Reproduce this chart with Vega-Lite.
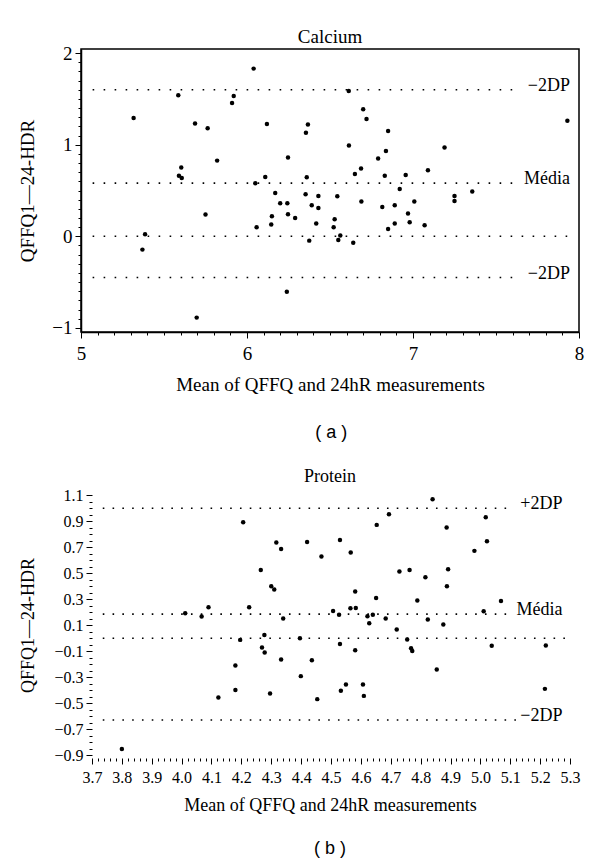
{
  "$schema": "https://vega.github.io/schema/vega-lite/v6.json",
  "background": "white",
  "padding": {"left": 18, "top": 27, "right": 5, "bottom": 5},
  "config": {
    "view": {"stroke": "black", "strokeWidth": 1.5},
    "font": "Liberation Serif",
    "axis": {"domainColor": "black", "domainWidth": 1.5, "tickColor": "black", "tickWidth": 1, "labelColor": "black", "titleColor": "black", "grid": false, "labelFont": "Liberation Serif", "titleFont": "Liberation Serif", "titleFontWeight": "normal", "titleFontSize": 18, "labelOverlap": false, "labelFlush": false},
    "title": {"font": "Liberation Serif", "fontWeight": "normal", "color": "black"}
  },
  "datasets": {
    "calcium": [
      {"x": 6.04, "y": 1.83}, {"x": 5.586, "y": 1.54}, {"x": 5.92, "y": 1.53}, {"x": 5.91, "y": 1.455}, {"x": 5.317, "y": 1.29},
      {"x": 5.687, "y": 1.23}, {"x": 6.12, "y": 1.226}, {"x": 6.367, "y": 1.22}, {"x": 5.763, "y": 1.18}, {"x": 6.355, "y": 1.13},
      {"x": 6.247, "y": 0.86}, {"x": 5.82, "y": 0.826}, {"x": 5.604, "y": 0.75}, {"x": 5.59, "y": 0.66}, {"x": 5.607, "y": 0.637},
      {"x": 6.11, "y": 0.648}, {"x": 6.36, "y": 0.645}, {"x": 6.613, "y": 1.586}, {"x": 6.70, "y": 1.386}, {"x": 6.72, "y": 1.28},
      {"x": 6.85, "y": 1.15}, {"x": 7.93, "y": 1.26}, {"x": 6.614, "y": 0.99}, {"x": 6.837, "y": 0.93}, {"x": 7.19, "y": 0.97},
      {"x": 6.79, "y": 0.85}, {"x": 6.687, "y": 0.74}, {"x": 6.65, "y": 0.68}, {"x": 6.83, "y": 0.66}, {"x": 6.956, "y": 0.67},
      {"x": 7.09, "y": 0.72}, {"x": 6.544, "y": 0.437}, {"x": 6.689, "y": 0.38}, {"x": 6.92, "y": 0.517}, {"x": 6.815, "y": 0.32},
      {"x": 6.89, "y": 0.34}, {"x": 7.008, "y": 0.38}, {"x": 7.25, "y": 0.44}, {"x": 7.25, "y": 0.386}, {"x": 7.357, "y": 0.49},
      {"x": 6.528, "y": 0.186}, {"x": 6.522, "y": 0.10}, {"x": 6.562, "y": 0.01}, {"x": 6.55, "y": -0.04}, {"x": 6.64, "y": -0.07},
      {"x": 6.97, "y": 0.248}, {"x": 6.89, "y": 0.14}, {"x": 6.98, "y": 0.154}, {"x": 6.85, "y": 0.08}, {"x": 7.07, "y": 0.12},
      {"x": 6.05, "y": 0.58}, {"x": 6.17, "y": 0.473}, {"x": 6.2, "y": 0.36}, {"x": 6.243, "y": 0.36}, {"x": 6.353, "y": 0.46},
      {"x": 6.43, "y": 0.44}, {"x": 6.39, "y": 0.34}, {"x": 6.43, "y": 0.31}, {"x": 6.15, "y": 0.22}, {"x": 6.247, "y": 0.24},
      {"x": 6.29, "y": 0.20}, {"x": 6.146, "y": 0.13}, {"x": 6.058, "y": 0.10}, {"x": 6.417, "y": 0.14}, {"x": 6.375, "y": -0.047},
      {"x": 5.75, "y": 0.237}, {"x": 5.386, "y": 0.023}, {"x": 5.37, "y": -0.145}, {"x": 6.24, "y": -0.606}, {"x": 5.697, "y": -0.887}
    ],
    "calcium_lines": [
      {"y": 1.60, "x": 5.07, "xend": 7.65, "label": "−2DP"},
      {"y": 0.58, "x": 5.07, "xend": 7.65, "label": "Média"},
      {"y": 0, "x": 5.07, "xend": 7.95, "label": ""},
      {"y": -0.45, "x": 5.07, "xend": 7.65, "label": "−2DP"}
    ],
    "protein": [
      {"x": 4.012, "y": 0.192}, {"x": 4.067, "y": 0.167}, {"x": 4.09, "y": 0.238}, {"x": 4.206, "y": 0.892}, {"x": 4.226, "y": 0.238},
      {"x": 4.265, "y": 0.525}, {"x": 4.30, "y": 0.40}, {"x": 4.31, "y": 0.375}, {"x": 4.317, "y": 0.736}, {"x": 4.333, "y": 0.687},
      {"x": 4.34, "y": 0.151}, {"x": 4.42, "y": 0.741}, {"x": 4.468, "y": 0.628}, {"x": 4.507, "y": 0.21}, {"x": 4.527, "y": 0.18},
      {"x": 4.53, "y": 0.756}, {"x": 4.84, "y": 1.07}, {"x": 4.694, "y": 0.954}, {"x": 4.653, "y": 0.872}, {"x": 4.566, "y": 0.659},
      {"x": 4.887, "y": 0.851}, {"x": 5.018, "y": 0.931}, {"x": 5.022, "y": 0.746}, {"x": 4.98, "y": 0.672}, {"x": 4.729, "y": 0.513},
      {"x": 4.763, "y": 0.525}, {"x": 4.816, "y": 0.469}, {"x": 4.892, "y": 0.531}, {"x": 4.888, "y": 0.40}, {"x": 4.581, "y": 0.359},
      {"x": 4.651, "y": 0.31}, {"x": 4.789, "y": 0.29}, {"x": 5.069, "y": 0.287}, {"x": 4.565, "y": 0.23}, {"x": 4.583, "y": 0.233},
      {"x": 5.011, "y": 0.208}, {"x": 4.622, "y": 0.169}, {"x": 4.64, "y": 0.18}, {"x": 4.683, "y": 0.151}, {"x": 4.628, "y": 0.115},
      {"x": 4.824, "y": 0.144}, {"x": 4.876, "y": 0.105}, {"x": 4.72, "y": 0.067}, {"x": 4.53, "y": -0.044}, {"x": 4.581, "y": -0.092},
      {"x": 4.755, "y": -0.01}, {"x": 4.768, "y": -0.077}, {"x": 4.772, "y": -0.098}, {"x": 5.038, "y": -0.059}, {"x": 5.219, "y": -0.057},
      {"x": 4.854, "y": -0.241}, {"x": 4.533, "y": -0.405}, {"x": 4.55, "y": -0.356}, {"x": 4.607, "y": -0.356}, {"x": 4.61, "y": -0.444},
      {"x": 5.216, "y": -0.39}, {"x": 4.196, "y": -0.013}, {"x": 4.277, "y": 0.025}, {"x": 4.269, "y": -0.072}, {"x": 4.278, "y": -0.11},
      {"x": 4.396, "y": 0.0}, {"x": 4.18, "y": -0.21}, {"x": 4.333, "y": -0.164}, {"x": 4.436, "y": -0.169}, {"x": 4.399, "y": -0.292},
      {"x": 4.18, "y": -0.398}, {"x": 4.123, "y": -0.456}, {"x": 4.296, "y": -0.425}, {"x": 4.454, "y": -0.469}, {"x": 3.80, "y": -0.852}
    ],
    "protein_lines": [
      {"y": 1.0, "x": 3.736, "xend": 5.108, "label": "+2DP"},
      {"y": 0.185, "x": 3.736, "xend": 5.108, "label": "Média"},
      {"y": 0, "x": 3.736, "xend": 5.287, "label": ""},
      {"y": -0.63, "x": 3.736, "xend": 5.136, "label": "−2DP"}
    ]
  },
  "spacing": 26,
  "columns": 1,
  "concat": [
    {
      "title": {"text": "( a )", "orient": "bottom", "anchor": "middle", "font": "Liberation Sans", "fontSize": 18, "fontWeight": "normal", "offset": 29, "dx": 30},
      "vconcat": [
        {
          "width": 498,
          "height": 283,
          "title": {"text": "Calcium", "fontSize": 19, "offset": -3},
          "encoding": {
            "x": {"field": "x", "type": "quantitative", "scale": {"domain": [5, 8], "nice": false, "zero": false},
              "axis": {"title": "Mean of QFFQ and 24hR measurements", "titleFontSize": 19, "titlePadding": 12, "labelPadding": 6, "labelFontSize": 19,
                "values": [5,5.1,5.2,5.3,5.4,5.5,5.6,5.7,5.8,5.9,6,6.1,6.2,6.3,6.4,6.5,6.6,6.7,6.8,6.9,7,7.1,7.2,7.3,7.4,7.5,7.6,7.7,7.8,7.9,8],
                "labelExpr": "abs(datum.value - round(datum.value)) < 0.001 ? format(datum.value, 'd') : ''",
                "tickSize": {"condition": {"test": "abs(datum.value - round(datum.value)) < 0.001", "value": 6}, "value": 3}}},
            "y": {"field": "y", "type": "quantitative", "scale": {"domain": [-1.044, 2.044], "nice": false, "zero": false},
              "axis": {"title": "QFFQ1—24-HDR", "titleFontSize": 19, "titlePadding": 14, "labelPadding": 3, "labelFontSize": 19,
                "values": [-1,-0.9,-0.8,-0.7,-0.6,-0.5,-0.4,-0.3,-0.2,-0.1,0,0.1,0.2,0.3,0.4,0.5,0.6,0.7,0.8,0.9,1,1.1,1.2,1.3,1.4,1.5,1.6,1.7,1.8,1.9,2],
                "labelExpr": "abs(datum.value - round(datum.value)) < 0.001 ? format(datum.value, 'd') : ''",
                "tickSize": {"condition": {"test": "abs(datum.value - round(datum.value)) < 0.001", "value": 6}, "value": 3}}}
          },
          "layer": [
            {"data": {"name": "calcium_lines"}, "mark": {"type": "rule", "color": "black", "strokeWidth": 1.6, "strokeDash": [1.6, 9.4]},
              "encoding": {"x2": {"field": "xend"}}},
            {"data": {"name": "calcium_lines"}, "mark": {"type": "text", "align": "right", "baseline": "middle", "dy": -4, "fontSize": 18, "font": "Liberation Serif", "color": "black"},
              "encoding": {"x": {"datum": 7.946, "type": "quantitative"}, "text": {"field": "label"}}},
            {"data": {"name": "calcium"}, "mark": {"type": "circle", "size": 20, "color": "black", "opacity": 1}}
          ]
        }
      ]
    },
    {
      "title": {"text": "( b )", "orient": "bottom", "anchor": "middle", "font": "Liberation Sans", "fontSize": 18, "fontWeight": "normal", "offset": 26, "dx": 30},
      "vconcat": [
        {
          "width": 498,
          "height": 266,
          "view": {"stroke": null},
          "title": {"text": "Protein", "fontSize": 18, "offset": 1},
          "encoding": {
            "x": {"field": "x", "type": "quantitative", "scale": {"domain": [3.6632, 5.3301], "nice": false, "zero": false},
              "axis": {"title": "Mean of QFFQ and 24hR measurements", "domain": false, "titlePadding": 11, "labelPadding": 5, "labelFontSize": 16,
                "values": [3.7,3.72,3.74,3.76,3.78,3.8,3.82,3.84,3.86,3.88,3.9,3.92,3.94,3.96,3.98,4,4.02,4.04,4.06,4.08,4.1,4.12,4.14,4.16,4.18,4.2,4.22,4.24,4.26,4.28,4.3,4.32,4.34,4.36,4.38,4.4,4.42,4.44,4.46,4.48,4.5,4.52,4.54,4.56,4.58,4.6,4.62,4.64,4.66,4.68,4.7,4.72,4.74,4.76,4.78,4.8,4.82,4.84,4.86,4.88,4.9,4.92,4.94,4.96,4.98,5,5.02,5.04,5.06,5.08,5.1,5.12,5.14,5.16,5.18,5.2,5.22,5.24,5.26,5.28,5.3],
                "labelExpr": "abs(datum.value*10 - round(datum.value*10)) < 0.01 ? format(datum.value, '.1f') : ''",
                "tickSize": {"condition": {"test": "abs(datum.value*10 - round(datum.value*10)) < 0.01", "value": 6}, "value": 3}}},
            "y": {"field": "y", "type": "quantitative", "scale": {"domain": [-0.922, 1.125], "nice": false, "zero": false},
              "axis": {"title": "QFFQ1—24-HDR", "domain": false, "offset": -11, "titlePadding": 16, "labelPadding": 3, "labelFontSize": 16,
                "values": [-0.9,-0.85,-0.8,-0.75,-0.7,-0.65,-0.6,-0.55,-0.5,-0.45,-0.4,-0.35,-0.3,-0.25,-0.2,-0.15,-0.1,-0.05,0,0.05,0.1,0.15,0.2,0.25,0.3,0.35,0.4,0.45,0.5,0.55,0.6,0.65,0.7,0.75,0.8,0.85,0.9,0.95,1,1.05,1.1],
                "labelExpr": "abs((datum.value-0.1)*5 - round((datum.value-0.1)*5)) < 0.01 ? format(datum.value, '.1f') : ''",
                "tickSize": {"condition": {"test": "abs((datum.value-0.1)*5 - round((datum.value-0.1)*5)) < 0.01", "value": 6}, "value": 3}}}
          },
          "layer": [
            {"data": {"values": [{}]}, "mark": {"type": "rect", "filled": false, "stroke": "black", "strokeWidth": 1.5},
              "encoding": {"x": {"datum": 3.7, "type": "quantitative"}, "x2": {"datum": 5.3}, "y": {"datum": -0.922, "type": "quantitative"}, "y2": {"datum": 1.125}}},
            {"data": {"name": "protein_lines"}, "mark": {"type": "rule", "color": "black", "strokeWidth": 1.6, "strokeDash": [1.6, 8.2]},
              "encoding": {"x2": {"field": "xend"}}},
            {"data": {"name": "protein_lines"}, "mark": {"type": "text", "align": "right", "baseline": "middle", "dy": -4, "fontSize": 18, "font": "Liberation Serif", "color": "black"},
              "encoding": {"x": {"datum": 5.275, "type": "quantitative"}, "text": {"field": "label"}}},
            {"data": {"name": "protein"}, "mark": {"type": "circle", "size": 20, "color": "black", "opacity": 1}}
          ]
        }
      ]
    }
  ]
}
